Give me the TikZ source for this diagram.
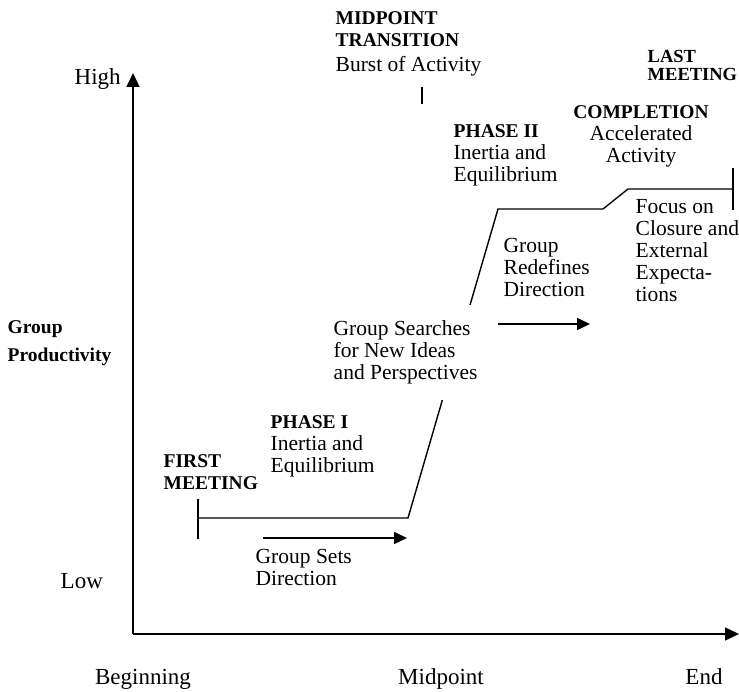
\documentclass[tikz,border=0pt]{standalone}
\usepackage{fontspec}
\setmainfont{Liberation Serif}
\usetikzlibrary{arrows.meta, positioning}
\newcommand*{\hd}[1]{{\fontsize{19.5}{22}\selectfont\bfseries #1}}
\tikzset{
  txt/.style={inner sep=0pt, align=left, anchor=north west, font=\fontsize{21.5}{22}\selectfont},
  hdtxt/.style={txt, font=\fontsize{19.5}{22}\selectfont\bfseries},
  axtxt/.style={inner sep=0pt, anchor=base, font=\fontsize{23}{24}\selectfont},
  axis/.style={-{Triangle[length=14pt,width=13pt]}, line width=1.5pt},
  dir/.style={-{Triangle[length=13pt,width=12pt]}, line width=1.5pt},
}

\begin{document}
\begin{tikzpicture}[x=1pt, y=-1pt, line width=1.4pt]
 \useasboundingbox (0,0) rectangle (739,692);

 % axes
 \coordinate (O) at (133,634);
 \coordinate (ytop) at (133,73);
 \coordinate (xend) at (739,634);
 \draw[axis] (O) -- (ytop);
 \draw[axis] (O) -- (xend);
 \node[axtxt, anchor=base west] (high) at (74,85) {High};
 \node[axtxt, anchor=base west] (low) at (60,588) {Low};
 \node[axtxt] (beg) at (143,684) {Beginning};
 \node[axtxt] (midp) at (441,684) {Midpoint};
 \node[axtxt] (end) at (704,684) {End};
 \node[hdtxt, font=\fontsize{19.5}{28}\selectfont\bfseries] (prod) at (7,320) {Group\\Productivity};

 % productivity curve
 \coordinate (first) at (198,518);
 \coordinate (turn1) at (408,518);
 \coordinate (turn2) at (498,209);
 \coordinate (turn3) at (603,209);
 \coordinate (turn4) at (628,189);
 \coordinate (last) at (733,189);
 \draw (first) ++(0,-19) -- ++(0,40);
 \draw (last) ++(0,-21) -- ++(0,42);
 \draw (first) -- (turn1) -- (turn2) -- (turn3) -- (turn4) -- (last);
 \draw (422,87) coordinate (mtick) -- ++(0,17);

 % direction arrows
 \coordinate (sets0) at (263,538);
 \coordinate (sets1) at (407,538);
 \coordinate (redef0) at (498,324);
 \coordinate (redef1) at (590,324);
 \draw[dir] (sets0) -- (sets1);
 \draw[dir] (redef0) -- (redef1);

 % labels
 \node[txt] (midtr) at (335,11) {\hd{MIDPOINT}\\\hd{TRANSITION}\\[3pt]Burst of Activity};
 \node[txt] (ph2) at (453,124) {\hd{PHASE II}\\Inertia and\\Equilibrium};
 \node[txt, align=center, anchor=north] (compl) at (641,105) {\hd{COMPLETION}\\Accelerated\\Activity};
 \node[hdtxt, font=\fontsize{18.5}{18}\selectfont\bfseries] (lastm) at (647,50) {LAST\\MEETING};
 \node[txt] (redef) at (503,238) {Group\\Redefines\\Direction};
 \node[txt] (focus) at (635,199) {Focus on\\Closure and\\External\\Expecta-\\tions};
 \node[txt, fill=white, inner ysep=16pt] (search) at (333,304) {Group Searches\\for New Ideas\\and Perspectives};
 \node[txt] (ph1) at (270,415) {\hd{PHASE I}\\Inertia and\\Equilibrium};
 \node[hdtxt] (firstm) at (163,454) {FIRST\\MEETING};
 \node[txt] (sets) at (255,549) {Group Sets\\Direction};
\end{tikzpicture}
\end{document}
